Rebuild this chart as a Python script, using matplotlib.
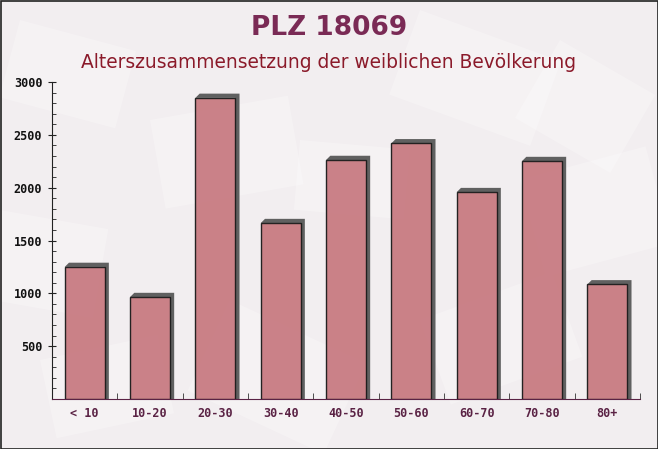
import matplotlib
matplotlib.use("Agg")
import matplotlib.pyplot as plt
from matplotlib.patches import Polygon, Rectangle
from matplotlib.ticker import MultipleLocator, FixedLocator
import numpy as np

categories = ["< 10", "10-20", "20-30", "30-40", "40-50", "50-60", "60-70", "70-80", "80+"]
values = [1250, 965, 2850, 1665, 2262, 2420, 1958, 2252, 1085]
yticks = [500, 1000, 1500, 2000, 2500, 3000]

title = "PLZ 18069"
subtitle = "Alterszusammensetzung der weiblichen Bevölkerung"

bg = "#f2eef0"
bar_color = "#c87b82"
shadow_color = "#606060"

fig = plt.figure(figsize=(6.58, 4.49), dpi=100, facecolor=bg)

# faint background "envelope" shapes
bgax = fig.add_axes([0, 0, 1, 1], zorder=-10)
bgax.set_xlim(0, 658)
bgax.set_ylim(449, 0)
bgax.axis("off")
shapes = [(20, 20, 120, 80, 15), (150, 120, 140, 90, -10), (420, 10, 150, 90, 20),
          (520, 180, 130, 100, -15), (0, 210, 110, 90, 10), (230, 300, 150, 100, 25),
          (420, 320, 140, 90, -20), (300, 140, 110, 70, 5), (560, 40, 110, 90, 30),
          (40, 360, 120, 80, -12)]
for (x, y, w, h, a) in shapes:
    r = Rectangle((x, y), w, h, angle=a, facecolor="white", alpha=0.25, edgecolor="none")
    bgax.add_patch(r)
bgax.add_patch(Rectangle((0.5, 0.5), 657, 448, fill=False, edgecolor="#222222", lw=1.2))

ax = fig.add_axes([52/658, 50/449, 588/658, 317/449])
ax.set_facecolor("none")
x = np.arange(len(categories))
w = 0.61
dx = 0.065
dy = 40
for xi, v in zip(x, values):
    x0, x1 = xi - w/2, xi + w/2
    shadow = Polygon([(x0, v), (x0 + dx, v + dy), (x1 + dx, v + dy), (x1 + dx, 0), (x1, 0), (x1, v)],
                     closed=True, facecolor=shadow_color, edgecolor="none", zorder=2)
    ax.add_patch(shadow)
ax.bar(x, values, width=w, color=bar_color, edgecolor="#1a1a1a", linewidth=1.0, zorder=3, alpha=0.95)

ax.set_xlim(-0.5, len(categories) - 0.5)
ax.set_ylim(0, 3000)
ax.set_xticks(x)
ax.set_xticklabels(categories, fontfamily="DejaVu Sans Mono", fontsize=8.5, fontweight="bold", color="#5a2244")
ax.xaxis.set_minor_locator(FixedLocator(np.arange(len(categories)) + 0.5))
ax.tick_params(axis="x", which="major", length=0, pad=6)
ax.tick_params(axis="x", which="minor", direction="in", length=4, color="#333333")
ax.set_yticks(yticks)
ax.set_yticklabels([str(t) for t in yticks], fontfamily="DejaVu Sans Mono", fontsize=8.5, fontweight="bold", color="#111111")
ax.yaxis.set_minor_locator(MultipleLocator(100))
ax.tick_params(axis="y", which="major", direction="inout", length=6, color="#222222", pad=4)
ax.tick_params(axis="y", which="minor", direction="in", length=3, color="#222222")
for s in ["top", "right"]:
    ax.spines[s].set_visible(False)
ax.spines["left"].set_color("#222222")
ax.spines["bottom"].set_color("#5a2244")

fig.text(0.5, 1 - 28/449, title, ha="center", va="center", fontsize=19, fontweight="bold", color="#7a2a55")
fig.text(0.5, 1 - 62/449, subtitle, ha="center", va="center", fontsize=13.4, color="#8b1a2a")

fig.savefig("out.png", dpi=100, facecolor=bg)
